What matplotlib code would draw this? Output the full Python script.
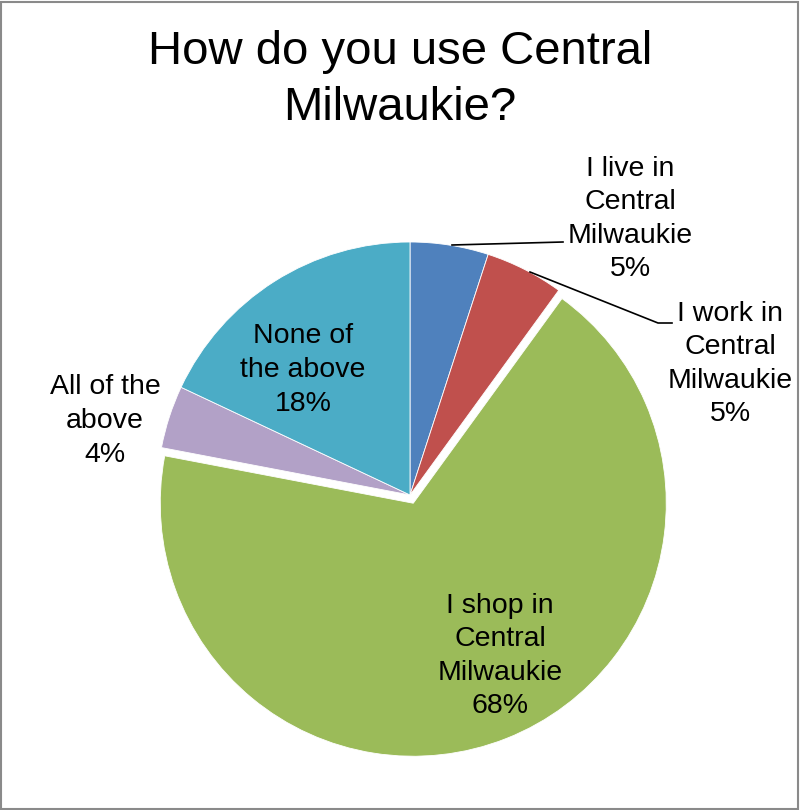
import matplotlib
matplotlib.use('Agg')
import matplotlib.pyplot as plt
from matplotlib.patches import Rectangle

labels = ['I live in\nCentral\nMilwaukie', 'I work in\nCentral\nMilwaukie',
          'I shop in\nCentral\nMilwaukie', 'All of the\nabove', 'None of\nthe above']
shares = [5, 5, 68, 4, 18]
colors = ['#4F81BD', '#C0504D', '#9BBB59', '#B2A1C7', '#4BACC6']
explode = [0, 0, 0.035, 0, 0]

plt.rcParams['font.family'] = ['Liberation Sans', 'DejaVu Sans']

W, H = 800, 810
CX, CY, R = 410, 495, 253  # pie centre and radius in pixels

fig = plt.figure(figsize=(W / 100, H / 100), dpi=100)
ax = fig.add_axes([0, 0, 1, 1])

wedges, _ = ax.pie(shares, colors=colors, explode=explode, startangle=90,
                   counterclock=False, radius=1,
                   wedgeprops=dict(edgecolor='white', linewidth=0.6))
ax.set_aspect('auto')
ax.set_xlim(-CX / R, (W - CX) / R)
ax.set_ylim(-(H - CY) / R, CY / R)
ax.axis('off')


def px(x, y):
    # pixel position (from top-left) -> data coords
    return (x - CX) / R, (CY - y) / R


label_pos = [(630, 219), (730, 364), (500, 656), (105, 421), (303, 370)]
for lab, val, (x, y) in zip(labels, shares, label_pos):
    ax.text(*px(x, y), f'{lab}\n{val}%', ha='center', va='center',
            fontsize=20.5, linespacing=1.38, color='black')

# leader lines for the two small outer labels
for pts in ([(452, 245), (563, 242)], [(530, 272), (658, 323), (672, 323)]):
    xs, ys = zip(*[px(*p) for p in pts])
    ax.plot(xs, ys, color='black', lw=1.2)

fig.text(0.5, 1 - 80 / H, 'How do you use Central\nMilwaukie?', ha='center',
         va='center', fontsize=34, linespacing=1.36)

fig.patches.append(Rectangle((0.001, 0.001), 0.996, 0.997, transform=fig.transFigure,
                             fill=False, edgecolor='#8a8a8a', lw=1.5))

fig.savefig('out.png', dpi=100)
